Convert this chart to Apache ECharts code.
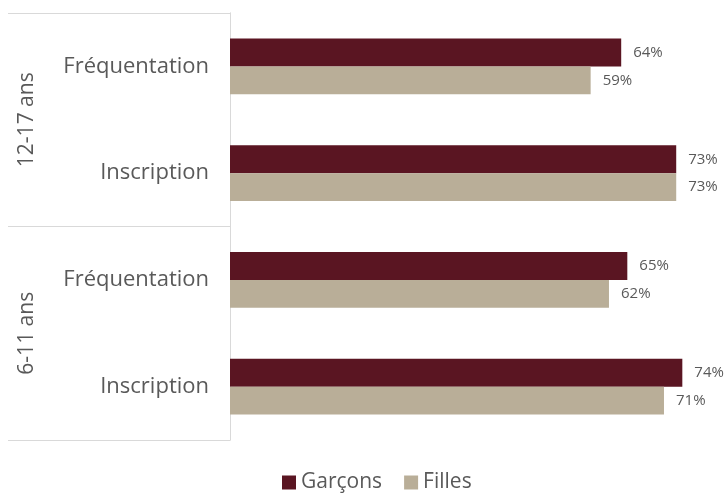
<!DOCTYPE html>
<html>
<head>
<meta charset="utf-8">
<script src="https://cdn.jsdelivr.net/npm/echarts@6/dist/echarts.min.js"></script>
<style>
  html, body { margin: 0; padding: 0; background: #fff; }
  #chart { width: 726px; height: 493px; }
</style>
</head>
<body>
<div id="chart"></div>
<script>
  // catégories (de haut en bas)
  const categories = ['Fréquentation', 'Inscription', 'Fréquentation', 'Inscription']
  const groups = ['12-17 ans', '6-11 ans']
  const garcons = [64, 73, 65, 74]
  const filles = [59, 73, 62, 71]

  const chart = echarts.init(document.getElementById('chart'))
  const lineColor = '#d9d9d9'
  const textColor = '#595959'
  const font = 'Open Sans'

  const option = {
    animation: false,
    grid: { left: 230, right: 7, top: 13, bottom: 53 },
    legend: {
      left: 277,
      top: 467,
      itemWidth: 14,
      itemHeight: 14,
      itemGap: 22,
      icon: 'rect',
      textStyle: { fontFamily: font, fontSize: 21, color: textColor }
    },
    xAxis: { type: 'value', min: 0, max: 80, show: false },
    yAxis: [
      {
        type: 'category',
        data: categories,
        inverse: true,
        axisLine: { lineStyle: { color: lineColor } },
        axisTick: { show: false },
        axisLabel: { margin: 21, fontFamily: font, fontSize: 22, color: textColor }
      },
      {
        type: 'category',
        data: groups,
        inverse: true,
        position: 'left',
        axisLine: { show: true, lineStyle: { color: lineColor } },
        axisTick: { show: true, interval: 0, length: 222, lineStyle: { color: lineColor } },
        axisLabel: { rotate: 90, margin: 192, fontFamily: font, fontSize: 21, color: textColor }
      }
    ],
    series: [
      {
        name: 'Garçons',
        type: 'bar',
        data: garcons,
        barGap: '0%',
        barCategoryGap: '48%',
        itemStyle: { color: '#5a1522' },
        label: { show: true, position: 'right', distance: 12, formatter: '{c}%', fontFamily: font, fontSize: 15, color: textColor }
      },
      {
        name: 'Filles',
        type: 'bar',
        data: filles,
        itemStyle: { color: '#b9ae98' },
        label: { show: true, position: 'right', distance: 12, formatter: '{c}%', fontFamily: font, fontSize: 15, color: textColor }
      }
    ]
  }
  chart.setOption(option)
</script>
</body>
</html>
